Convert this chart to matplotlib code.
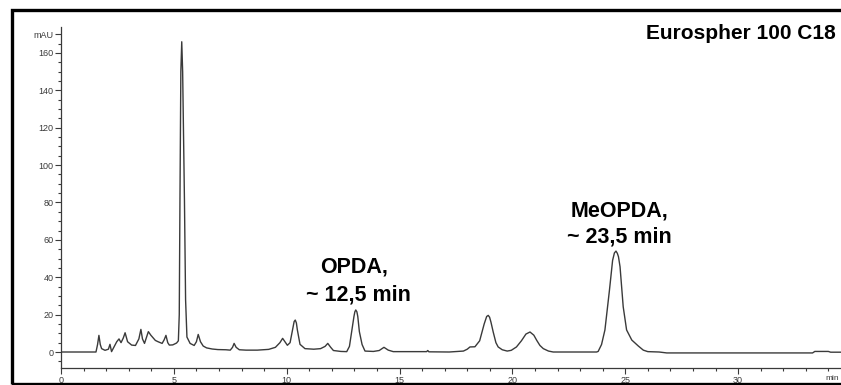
import matplotlib
matplotlib.use("Agg")
import matplotlib.pyplot as plt
from matplotlib.ticker import MultipleLocator
from matplotlib.patches import Rectangle

# cromatograma lido ponto a ponto da figura (tempo em min, sinal em mAU)
tempo = [0.0, 1.55, 1.62, 1.68, 1.74, 1.80, 1.95, 2.10, 2.17, 2.24, 2.38, 2.47, 2.57, 2.66,
         2.76, 2.84, 2.95, 3.13, 3.30, 3.45, 3.54, 3.61, 3.70, 3.87, 3.98, 4.18, 4.30,
         4.48, 4.57, 4.65, 4.73, 4.80, 4.95, 5.12, 5.20, 5.24, 5.27, 5.31, 5.35, 5.39,
         5.47, 5.52, 5.58, 5.72, 5.90, 6.00, 6.08, 6.18, 6.30, 6.45, 6.70, 6.95, 7.30,
         7.50, 7.60, 7.67, 7.76, 7.90, 8.20, 8.70, 9.20, 9.50, 9.70, 9.82, 9.95, 10.03,
         10.15, 10.28, 10.33, 10.38, 10.43, 10.47, 10.59, 10.81, 11.20, 11.50, 11.70, 11.82,
         11.95, 12.07, 12.40, 12.66, 12.78, 12.88, 12.98, 13.02, 13.06, 13.11, 13.15, 13.22,
         13.34, 13.47, 13.84, 14.10, 14.31, 14.50, 14.72, 16.20, 16.25, 16.30, 17.20, 17.83,
         18.00, 18.12, 18.34, 18.55, 18.75, 18.86, 18.93, 18.99, 19.05, 19.15, 19.27, 19.37,
         19.55, 19.77, 19.95, 20.18, 20.40, 20.60, 20.78, 20.95, 21.08, 21.22, 21.37, 21.60,
         21.81, 23.73, 23.80, 23.95, 24.10, 24.30, 24.44, 24.52, 24.59, 24.65, 24.70, 24.77,
         24.91, 25.06, 25.29, 25.58, 25.80, 26.00, 26.50, 26.84, 33.30, 33.40, 34.00, 34.10,
         34.60]
sinal = [0.0, 0.0, 4.0, 8.9, 4.0, 1.8, 0.9, 1.5, 4.1, 0.2, 3.5, 5.5, 7.0, 5.0,
         7.5, 10.3, 5.5, 3.7, 3.5, 7.0, 12.1, 7.0, 4.6, 10.9, 9.0, 6.2, 5.5,
         4.6, 6.5, 8.9, 5.0, 3.7, 3.8, 4.8, 6.0, 20.0, 80.0, 150.0, 166.0, 150.0,
         81.0, 28.0, 8.0, 4.6, 3.5, 5.5, 9.4, 5.5, 3.2, 2.2, 1.6, 1.3, 1.2,
         1.0, 2.5, 4.6, 2.5, 1.2, 1.0, 1.0, 1.4, 2.5, 5.0, 7.3, 5.0, 3.6,
         5.0, 13.0, 16.3, 17.1, 15.5, 12.0, 4.1, 1.8, 1.5, 1.8, 3.0, 4.6,
         2.5, 0.8, 0.3, 0.2, 3.0, 10.9, 19.0, 21.5, 22.5, 21.5, 19.0, 10.9,
         4.0, 0.5, 0.3, 0.8, 2.5, 1.0, 0.2, 0.2, 0.8, 0.1, 0.0, 0.5,
         1.5, 2.7, 2.8, 6.0, 15.0, 19.0, 19.6, 18.6, 16.0, 10.7, 5.0, 2.7,
         1.2, 0.5, 0.9, 2.7, 6.0, 9.6, 10.7, 9.0, 6.2, 3.5, 1.8, 0.5,
         0.0, 0.0, 0.3, 4.0, 11.8, 33.0, 49.0, 53.0, 54.0, 52.8, 51.0, 45.6,
         24.2, 11.8, 6.4, 3.2, 1.0, 0.2, 0.0, -0.5, -0.5, 0.3, 0.3, -0.1,
         -0.1]

ticks_y = [0, 20, 40, 60, 80, 100, 120, 140, 160, 170]
rotulos_y = ["0", "20", "40", "60", "80", "100", "120", "140", "160", "mAU"]
ticks_x = [0, 5, 10, 15, 20, 25, 30]
picos = [("OPDA,", "~ 12,5 min"), ("MeOPDA,", "~ 23,5 min")]
titulo = "Eurospher 100 C18"

W, H = 841, 385                                                # tamanho da imagem em pixels
cinza = "#3a3a3a"

fig = plt.figure(figsize=(W / 100, H / 100), dpi=100)
ax = fig.add_axes([61 / W, 1 - 368 / H, 1 - 61 / W, (368 - 27) / H])

ax.plot(tempo, sinal, color=cinza, lw=1.0)

ax.set_xlim(0, 34.56)
ax.set_ylim(-8.56, 173.9)

for lado in ["top", "right"]:
    ax.spines[lado].set_visible(False)
for lado in ["left", "bottom"]:
    ax.spines[lado].set_color(cinza)
    ax.spines[lado].set_linewidth(0.9)

ax.set_yticks(ticks_y)
ax.set_yticklabels(rotulos_y)
ax.yaxis.set_minor_locator(MultipleLocator(5))
ax.set_xticks(ticks_x)
ax.xaxis.set_minor_locator(MultipleLocator(1))
ax.tick_params(axis="both", which="major", length=4, width=0.8, color=cinza,
               labelsize=6.5, labelcolor=cinza, pad=1.5)
ax.tick_params(axis="both", which="minor", length=2, width=0.8, color=cinza)
for rot in ax.get_xticklabels() + ax.get_yticklabels():
    rot.set_family("Liberation Sans")

# rótulo "min" no canto direito do eixo x
fig.text(839 / W, 1 - 379 / H, "min", fontsize=6, color=cinza,
         family="Liberation Sans", va="center", ha="right")

# textos em negrito sobre os picos
fonte = dict(family="Liberation Sans", weight="bold", color="black", fontsize=15.5)
fig.text(836 / W, 1 - 39 / H, titulo, ha="right", va="baseline", **dict(fonte, fontsize=15))
fig.text(354 / W, 1 - 273 / H, picos[0][0], ha="center", va="baseline", **fonte)
fig.text(358 / W, 1 - 301 / H, picos[0][1], ha="center", va="baseline", **fonte)
fig.text(619 / W, 1 - 216 / H, picos[1][0], ha="center", va="baseline", **fonte)
fig.text(619 / W, 1 - 243 / H, picos[1][1], ha="center", va="baseline", **fonte)

# moldura preta em volta da figura
fig.add_artist(Rectangle((11.5 / W, 1.5 / H), 1.2, (383.5 - 9.5) / H,
                         transform=fig.transFigure, fill=False,
                         edgecolor="black", lw=2.4, clip_on=False))

fig.savefig("out.png", dpi=100)
